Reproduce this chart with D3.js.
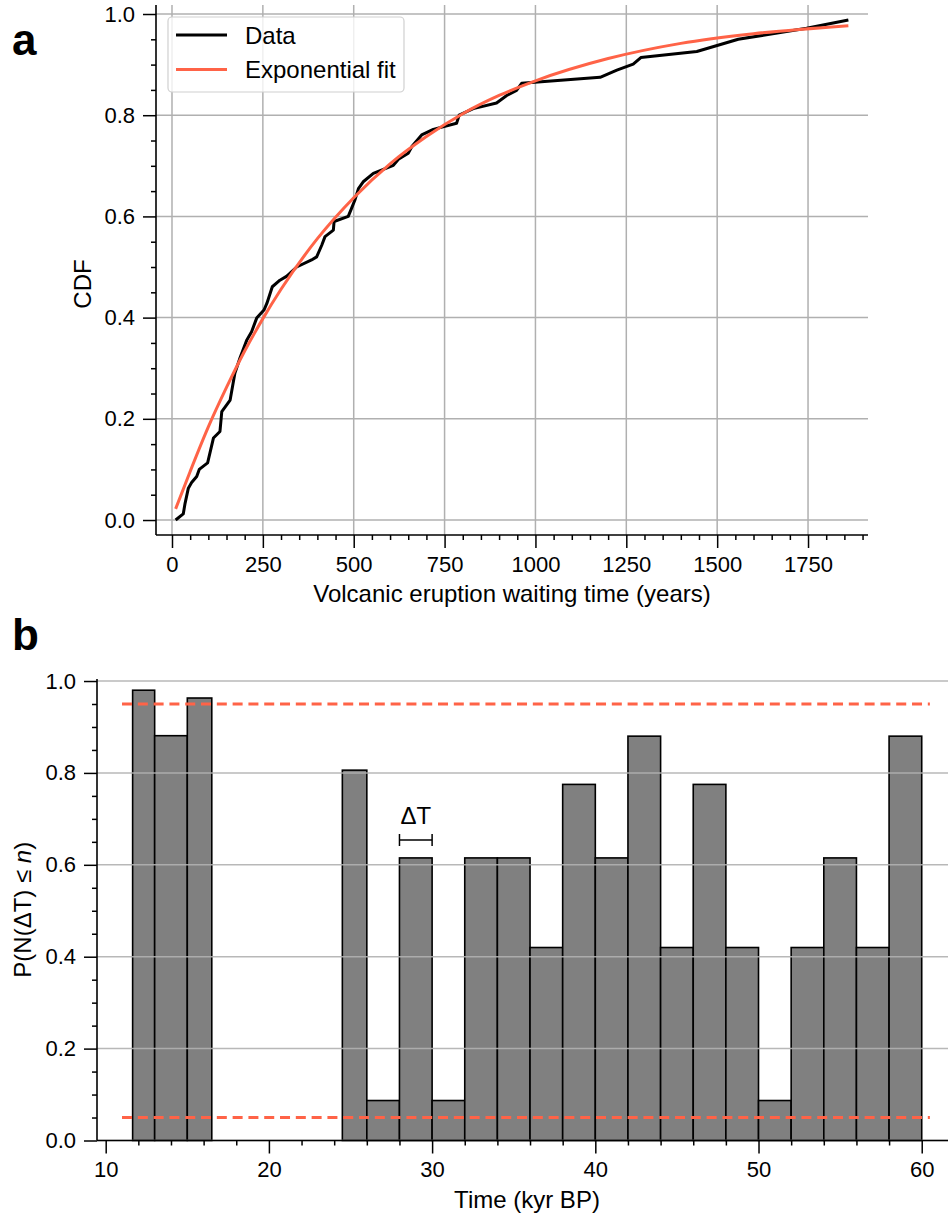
<!DOCTYPE html>
<html>
<head>
<meta charset="utf-8">
<script src="https://cdn.jsdelivr.net/npm/d3@7"></script>
<style>
  html, body { margin: 0; padding: 0; background: #fff; }
  svg { display: block; font-family: "Liberation Sans", Arial, sans-serif; }
</style>
</head>
<body>
<svg id="fig" width="948" height="1217"></svg>
<script>
// ---------- Panel a: waiting-time CDF ----------
const waitYears = [10, 31, 36, 45, 54, 68, 75, 98, 114, 132, 137, 160, 173, 187, 206, 219, 233, 253, 261, 276,
  297, 316, 343, 384, 398, 412, 421, 444, 446, 485, 494, 503, 513, 527, 554, 609, 623, 650, 660, 687,
  719, 783, 790, 829, 893, 921, 948, 962, 1178, 1224, 1269, 1290, 1444, 1558, 1746, 1861];
const cdfValues = [0.0, 0.012, 0.033, 0.063, 0.074, 0.086, 0.1, 0.113, 0.162, 0.175, 0.214, 0.237, 0.29, 0.32, 0.356, 0.372, 0.399, 0.415, 0.428, 0.461,
  0.474, 0.482, 0.5, 0.514, 0.52, 0.543, 0.56, 0.573, 0.59, 0.6, 0.616, 0.632, 0.655, 0.669, 0.685, 0.701, 0.713, 0.725, 0.738, 0.761,
  0.772, 0.784, 0.8, 0.813, 0.824, 0.839, 0.849, 0.863, 0.875, 0.889, 0.901, 0.914, 0.926, 0.95, 0.972, 0.988];

// exponential fit, sampled
const fitYears  = [10, 50, 100, 150, 200, 250, 300, 400, 500, 600, 700, 800, 900, 1000, 1200, 1400, 1600, 1861];
const fitValues = [0.022, 0.096, 0.184, 0.262, 0.334, 0.398, 0.456, 0.556, 0.637, 0.704, 0.758, 0.803, 0.839, 0.868, 0.912, 0.942, 0.961, 0.977];

const xTicksA = [0, 250, 500, 750, 1000, 1250, 1500, 1750];
const yTicks = [0, 0.2, 0.4, 0.6, 0.8, 1.0];

// ---------- Panel b: probability per time window ----------
const binStart = [11.65, 13, 15, 24.5, 26, 28, 30, 32, 34, 36, 38, 40, 42, 44, 46, 48, 50, 52, 54, 56, 58];
const binEnd   = [13, 15, 16.5, 26, 28, 30, 32, 34, 36, 38, 40, 42, 44, 46, 48, 50, 52, 54, 56, 58, 60];
const probValues = [0.98, 0.881, 0.963, 0.806, 0.087, 0.615, 0.087, 0.615, 0.615, 0.42, 0.775, 0.615, 0.88, 0.42, 0.775, 0.42, 0.087, 0.42, 0.615, 0.42, 0.88];
const thresholds = [0.05, 0.95];
const thresholdSpan = [11, 60.5];
const xTicksB = [10, 20, 30, 40, 50, 60];
const deltaSpan = [28, 30];

const RED = "#ff6347";
const GRID = "#b0b0b0";
const svg = d3.select("#fig");

function styleAxis(g) {
  g.select(".domain").remove();
  g.selectAll(".tick line").attr("stroke", "#000").attr("stroke-width", 1.5);
  g.selectAll(".tick text").attr("font-size", 22).attr("fill", "#000")
    .attr("font-family", "'Liberation Sans', Arial, sans-serif");
}

// ================= Panel a =================
const A = { left: 156, right: 868, top: 5, bottom: 535 };
const xA = d3.scaleLinear().domain([-44, 1915]).range([A.left, A.right]);
const yA = d3.scaleLinear().domain([-0.0296, 1.0178]).range([A.bottom, A.top]);
const gA = svg.append("g");

// grid
gA.append("g").selectAll("line").data(xTicksA).join("line")
  .attr("x1", d => xA(d)).attr("x2", d => xA(d)).attr("y1", A.top).attr("y2", A.bottom)
  .attr("stroke", GRID).attr("stroke-width", 1.5);
gA.append("g").selectAll("line").data(yTicks).join("line")
  .attr("x1", A.left).attr("x2", A.right).attr("y1", d => yA(d)).attr("y2", d => yA(d))
  .attr("stroke", GRID).attr("stroke-width", 1.5);

// axes
const minorXA = d3.range(0, 1915, 50).filter(v => v % 250 !== 0);
const minorY = d3.range(0, 1.0001, 0.05).filter(v => Math.abs(v * 5 - Math.round(v * 5)) > 1e-6);
gA.append("g").attr("transform", `translate(0,${A.bottom})`)
  .call(d3.axisBottom(xA).tickValues(xTicksA).tickSize(13).tickPadding(8).tickFormat(d3.format("d"))).call(styleAxis);
gA.append("g").attr("transform", `translate(0,${A.bottom})`)
  .call(d3.axisBottom(xA).tickValues(minorXA).tickSize(5).tickFormat("")).call(styleAxis);
gA.append("g").attr("transform", `translate(${A.left},0)`)
  .call(d3.axisLeft(yA).tickValues(yTicks).tickSize(13).tickPadding(8).tickFormat(d3.format(".1f"))).call(styleAxis);
gA.append("g").attr("transform", `translate(${A.left},0)`)
  .call(d3.axisLeft(yA).tickValues(minorY).tickSize(5).tickFormat("")).call(styleAxis);
gA.append("line").attr("x1", A.left).attr("x2", A.left).attr("y1", A.top).attr("y2", A.bottom)
  .attr("stroke", "#000").attr("stroke-width", 1.6);
gA.append("line").attr("x1", A.left).attr("x2", A.right).attr("y1", A.bottom).attr("y2", A.bottom)
  .attr("stroke", "#000").attr("stroke-width", 1.6);

// curves
const dataPts = waitYears.map((v, i) => [v, cdfValues[i]]);
const fitPts = fitYears.map((v, i) => [v, fitValues[i]]);
gA.append("path").datum(dataPts)
  .attr("d", d3.line().x(d => xA(d[0])).y(d => yA(d[1])))
  .attr("fill", "none").attr("stroke", "#000").attr("stroke-width", 3).attr("stroke-linejoin", "round");
gA.append("path").datum(fitPts)
  .attr("d", d3.line().curve(d3.curveMonotoneX).x(d => xA(d[0])).y(d => yA(d[1])))
  .attr("fill", "none").attr("stroke", RED).attr("stroke-width", 3);

// legend
const leg = gA.append("g");
leg.append("rect").attr("x", 168).attr("y", 17).attr("width", 236).attr("height", 75).attr("rx", 4)
  .attr("fill", "#fff").attr("fill-opacity", 0.8).attr("stroke", "#d0d0d0").attr("stroke-width", 1.2);
[["Data", "#000", 35], ["Exponential fit", RED, 69.5]].forEach(([label, col, y]) => {
  leg.append("line").attr("x1", 176).attr("x2", 227).attr("y1", y).attr("y2", y)
    .attr("stroke", col).attr("stroke-width", 3);
  leg.append("text").attr("x", 245).attr("y", y + 8.5).attr("font-size", 24).text(label);
});

// labels
gA.append("text").attr("x", (A.left + A.right) / 2).attr("y", 602).attr("text-anchor", "middle")
  .attr("font-size", 24).text("Volcanic eruption waiting time (years)");
gA.append("text").attr("transform", "translate(91,284) rotate(-90)")
  .attr("text-anchor", "middle").attr("font-size", 24).text("CDF");
svg.append("text").attr("x", 12).attr("y", 55).attr("font-size", 44).attr("font-weight", "bold").text("a");

// ================= Panel b =================
const B = { left: 97, right: 948, top: 679, bottom: 1140.5 };
const xB = d3.scaleLinear().domain([9.467, 61.61]).range([B.left, B.right]);
const yB = d3.scaleLinear().domain([0, 1.0044]).range([B.bottom, B.top]);
const gB = svg.append("g");

// bars
gB.append("g").selectAll("rect").data(probValues).join("rect")
  .attr("x", (d, i) => xB(binStart[i])).attr("width", (d, i) => xB(binEnd[i]) - xB(binStart[i]))
  .attr("y", d => yB(d)).attr("height", d => yB(0) - yB(d))
  .attr("fill", "#808080").attr("stroke", "#000").attr("stroke-width", 1.6);

// horizontal grid (drawn over the bars)
gB.append("g").selectAll("line").data(yTicks).join("line")
  .attr("x1", B.left).attr("x2", B.right).attr("y1", d => yB(d)).attr("y2", d => yB(d))
  .attr("stroke", GRID).attr("stroke-width", 1.5).attr("stroke-opacity", 0.9);

// thresholds
gB.append("g").selectAll("line").data(thresholds).join("line")
  .attr("x1", xB(thresholdSpan[0])).attr("x2", xB(thresholdSpan[1]))
  .attr("y1", d => yB(d)).attr("y2", d => yB(d))
  .attr("stroke", RED).attr("stroke-width", 3).attr("stroke-dasharray", "10,5.8");

// axes
const minorXB = d3.range(10, 61.6, 2).filter(v => v % 10 !== 0);
gB.append("g").attr("transform", `translate(0,${B.bottom})`)
  .call(d3.axisBottom(xB).tickValues(xTicksB).tickSize(13).tickPadding(8).tickFormat(d3.format("d"))).call(styleAxis);
gB.append("g").attr("transform", `translate(0,${B.bottom})`)
  .call(d3.axisBottom(xB).tickValues(minorXB).tickSize(5).tickFormat("")).call(styleAxis);
gB.append("g").attr("transform", `translate(${B.left},0)`)
  .call(d3.axisLeft(yB).tickValues(yTicks).tickSize(13).tickPadding(8).tickFormat(d3.format(".1f"))).call(styleAxis);
gB.append("g").attr("transform", `translate(${B.left},0)`)
  .call(d3.axisLeft(yB).tickValues(minorY).tickSize(5).tickFormat("")).call(styleAxis);
gB.append("line").attr("x1", B.left).attr("x2", B.left).attr("y1", B.top).attr("y2", B.bottom)
  .attr("stroke", "#000").attr("stroke-width", 1.6);
gB.append("line").attr("x1", B.left).attr("x2", B.right).attr("y1", B.bottom).attr("y2", B.bottom)
  .attr("stroke", "#000").attr("stroke-width", 1.6);

// ΔT window marker
const dY = yB(0.654);
const dT = gB.append("g").attr("stroke", "#000").attr("stroke-width", 1.5);
dT.append("line").attr("x1", xB(deltaSpan[0])).attr("x2", xB(deltaSpan[1])).attr("y1", dY).attr("y2", dY);
deltaSpan.forEach(v => dT.append("line").attr("x1", xB(v)).attr("x2", xB(v)).attr("y1", dY - 6).attr("y2", dY + 6));
gB.append("text").attr("x", xB((deltaSpan[0] + deltaSpan[1]) / 2)).attr("y", yB(0.689))
  .attr("text-anchor", "middle").attr("font-size", 24).text("ΔT");

// labels
gB.append("text").attr("x", 527).attr("y", 1208).attr("text-anchor", "middle")
  .attr("font-size", 24).text("Time (kyr BP)");
const yl = gB.append("text").attr("transform", `translate(31,${(B.top + B.bottom) / 2}) rotate(-90)`)
  .attr("text-anchor", "middle").attr("font-size", 24);
yl.append("tspan").text("P(N(ΔT) ≤ ");
yl.append("tspan").attr("font-style", "italic").text("n");
yl.append("tspan").text(")");
svg.append("text").attr("x", 12).attr("y", 650).attr("font-size", 44).attr("font-weight", "bold").text("b");
</script>
</body>
</html>
